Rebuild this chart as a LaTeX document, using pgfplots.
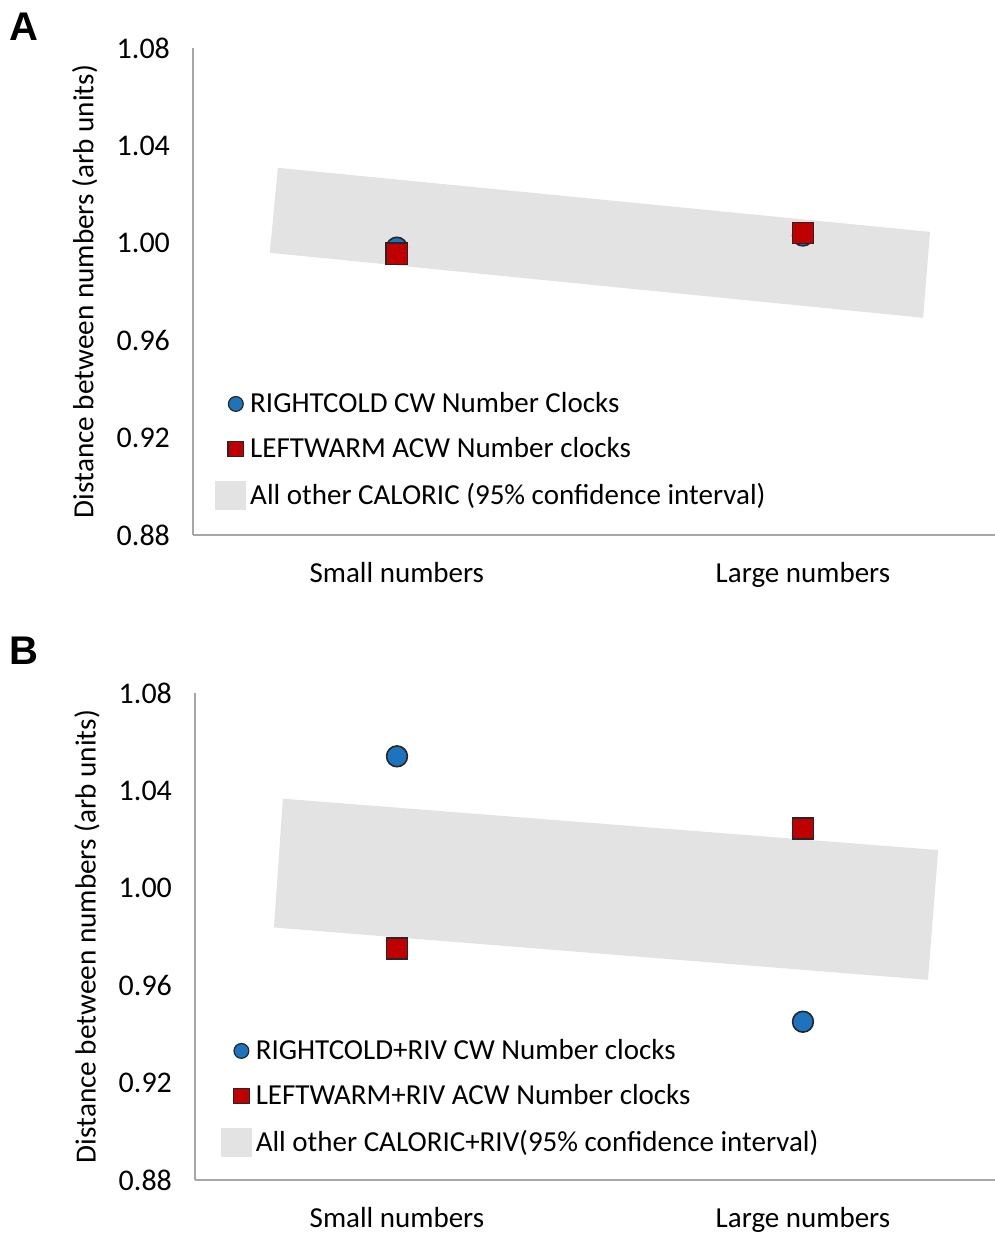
\documentclass[border=0pt]{standalone}
\usepackage{fontspec}
\setmainfont{Carlito}
\newfontfamily\arialb{Liberation Sans}
\usepackage{pgfplots}
\pgfplotsset{compat=1.18}
\definecolor{bandgray}{HTML}{E3E3E3}
\definecolor{mblue}{HTML}{1E73BE}
\definecolor{mred}{HTML}{C00000}
\definecolor{axgray}{HTML}{A6A6A6}
\pgfplotsset{
  panel/.style={
    scale only axis,
    height=243.5pt,
    ymin=0.88, ymax=1.08,
    ytick={0.88,0.92,0.96,1.00,1.04,1.08},
    xtick={0,1},
    xticklabels={Small numbers, Large numbers},
    axis x line*=bottom, axis y line*=left,
    axis line style={draw=axgray, line width=0.8pt, -},
    major tick length=0pt,
    xticklabel style={font=\fontsize{14.5}{17}\selectfont, yshift=-10pt},
    yticklabel style={font=\fontsize{15}{18}\selectfont, /pgf/number format/fixed, /pgf/number format/fixed zerofill, /pgf/number format/precision=2, /pgf/number format/assume math mode=true, xshift=-8pt},
    ylabel={Distance between numbers (arb units)},
    ylabel style={font=\fontsize{14.6}{17}\selectfont, at={(axis description cs:-0.135,0.5)}, anchor=center},
    clip=false,
    legend cell align=left,
    legend style={draw=none, fill=none, font=\fontsize{14.5}{17}\selectfont,
      anchor=north west, row sep=9pt, column sep=0pt,
      nodes={inner xsep=0pt, inner ysep=1pt}},
  },
  circlemark/.style={only marks, mark=*, mark size=5.2pt,
    mark options={fill=mblue, draw=black!85, line width=0.8pt},
    legend image code/.code={\path (0pt,0pt) (17pt,0pt); \draw[mark=*, mark size=3.7pt, mark options={fill=mblue, draw=black!85, line width=0.6pt}] plot coordinates {(10pt,0pt)};}},
  squaremark/.style={only marks, mark=square*, mark size=5.3pt,
    mark options={fill=mred, draw=black!85, line width=0.8pt},
    legend image code/.code={\path (0pt,0pt) (17pt,0pt); \draw[mark=square*, mark size=3.9pt, mark options={fill=mred, draw=black!85, line width=0.6pt}] plot coordinates {(10pt,0pt)};}},
  bandlegend/.style={legend image code/.code={\path (0pt,0pt) (17pt,0pt); \fill[bandgray] (0pt,-7pt) rectangle (15pt,7pt);}},
}
\begin{document}
\begin{tikzpicture}
\useasboundingbox (0,0) rectangle (497.5pt,-616.5pt);
\node[font=\arialb\bfseries\fontsize{20}{24}\selectfont] at (12pt,-13.5pt) {A};
\node[font=\arialb\bfseries\fontsize{20}{24}\selectfont] at (12pt,-325.5pt) {B};

% Panel A
\begin{axis}[panel, width=401pt, at={(96.5pt,-267.5pt)}, anchor=south west,
  xmin=-0.502, xmax=1.473,
  legend style={at={(axis description cs:0.02,0.306)}}]
\addplot[fill=bandgray, draw=none, forget plot] coordinates {(-0.293,1.0308) (1.313,1.0045) (1.296,0.9692) (-0.313,0.9959)} -- cycle;
\addplot[circlemark] coordinates {(0,0.998) (1,1.003)};
\addlegendentry{RIGHTCOLD CW Number Clocks}
\addplot[squaremark] coordinates {(0,0.9955) (1,1.004)};
\addlegendentry{LEFTWARM ACW Number clocks}
\addlegendimage{bandlegend}
\addlegendentry{All other CALORIC (95\% confidence interval)}
\end{axis}

% Panel B
\begin{axis}[panel, width=400pt, at={(97.5pt,-590pt)}, anchor=south west,
  xmin=-0.4975, xmax=1.473,
  legend style={at={(axis description cs:0.0245,0.302)}}]
\addplot[fill=bandgray, draw=none, forget plot] coordinates {(-0.281,1.0366) (1.333,1.0155) (1.308,0.9622) (-0.303,0.9837)} -- cycle;
\addplot[circlemark] coordinates {(0,1.054) (1,0.945)};
\addlegendentry{RIGHTCOLD+RIV CW Number clocks}
\addplot[squaremark] coordinates {(0,0.975) (1,1.0244)};
\addlegendentry{LEFTWARM+RIV ACW Number clocks}
\addlegendimage{bandlegend}
\addlegendentry{All other CALORIC+RIV(95\% confidence interval)}
\end{axis}
\end{tikzpicture}
\end{document}
